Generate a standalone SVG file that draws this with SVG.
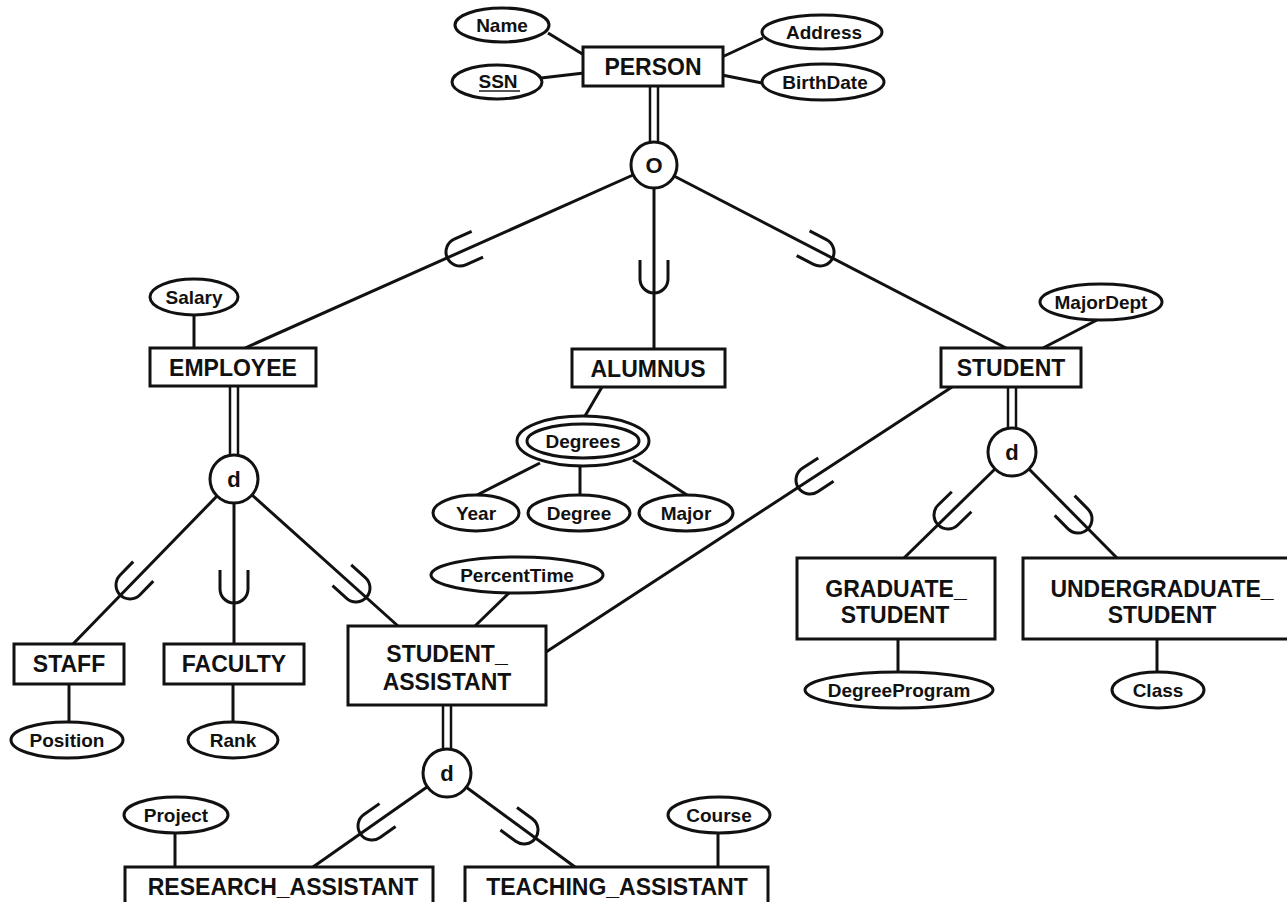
<svg xmlns="http://www.w3.org/2000/svg" xmlns:xlink="http://www.w3.org/1999/xlink" width="1287" height="902" viewBox="0 0 1287 902">
<style>
.ent{fill:#fff;stroke:#111;stroke-width:3}
.att{fill:#fff;stroke:#111;stroke-width:3}
.ln{stroke:#111;stroke-width:3;fill:none}
.dl{stroke:#111;stroke-width:2.5;fill:none}
.u{stroke:#111;stroke-width:3;fill:none}
.et{font-family:"Liberation Sans",Arial,sans-serif;font-weight:bold;font-size:23px;fill:#111;text-anchor:middle}
.at{font-family:"Liberation Sans",Arial,sans-serif;font-weight:bold;font-size:19px;fill:#111;text-anchor:middle}
.ct{font-family:"Liberation Sans",Arial,sans-serif;font-weight:bold;font-size:22px;fill:#111;text-anchor:middle}
</style>
<defs>
<path id="u" d="M -14,-19 L -14,0 A 14,14 0 0 0 14,0 L 14,-19"/>
</defs>
<rect width="1287" height="902" fill="#fff"/>
<g id="connectors">
<line class="ln" x1="548" y1="33" x2="584" y2="55"/>
<line class="ln" x1="541" y1="78" x2="584" y2="73"/>
<line class="ln" x1="763" y1="38" x2="722" y2="57"/>
<line class="ln" x1="762" y1="83" x2="722" y2="75"/>
<line class="dl" x1="650" y1="86" x2="650" y2="144"/>
<line class="dl" x1="658" y1="86" x2="658" y2="144"/>
<line class="ln" x1="633" y1="175" x2="245" y2="348"/>
<line class="ln" x1="654" y1="188" x2="654" y2="349"/>
<line class="ln" x1="674" y1="176" x2="1006" y2="348"/>
<use href="#u" class="u" transform="translate(460,252) rotate(65.96)"/>
<use href="#u" class="u" transform="translate(654,279)"/>
<use href="#u" class="u" transform="translate(820,252) rotate(-62.6)"/>
<line class="ln" x1="194" y1="315" x2="194" y2="348"/>
<line class="ln" x1="1097" y1="320" x2="1043" y2="348"/>
<line class="ln" x1="602" y1="387" x2="585" y2="416"/>
<line class="ln" x1="540" y1="463" x2="477" y2="495"/>
<line class="ln" x1="580" y1="466" x2="580" y2="495"/>
<line class="ln" x1="633" y1="460" x2="687" y2="495"/>
<line class="dl" x1="230" y1="386" x2="230" y2="456"/>
<line class="dl" x1="238" y1="386" x2="238" y2="456"/>
<line class="ln" x1="217" y1="496" x2="73" y2="644"/>
<line class="ln" x1="234" y1="503" x2="234" y2="644"/>
<line class="ln" x1="252" y1="495" x2="398" y2="626"/>
<use href="#u" class="u" transform="translate(130,585) rotate(44.2)"/>
<use href="#u" class="u" transform="translate(234,589)"/>
<use href="#u" class="u" transform="translate(356,588) rotate(-48.1)"/>
<line class="ln" x1="69" y1="684" x2="69" y2="722"/>
<line class="ln" x1="233" y1="684" x2="233" y2="722"/>
<line class="ln" x1="510" y1="592" x2="475" y2="626"/>
<line class="ln" x1="952" y1="387" x2="546" y2="652"/>
<use href="#u" class="u" transform="translate(810,480) rotate(56.87)"/>
<line class="dl" x1="1008" y1="387" x2="1008" y2="429"/>
<line class="dl" x1="1016" y1="387" x2="1016" y2="429"/>
<line class="ln" x1="995" y1="469" x2="904" y2="558"/>
<line class="ln" x1="1029" y1="469" x2="1117" y2="558"/>
<use href="#u" class="u" transform="translate(948,515) rotate(45.6)"/>
<use href="#u" class="u" transform="translate(1078,519) rotate(-44.7)"/>
<line class="ln" x1="898" y1="639" x2="898" y2="672"/>
<line class="ln" x1="1157" y1="639" x2="1157" y2="672"/>
<line class="dl" x1="443" y1="705" x2="443" y2="750"/>
<line class="dl" x1="451" y1="705" x2="451" y2="750"/>
<line class="ln" x1="427" y1="787" x2="313" y2="867"/>
<line class="ln" x1="466" y1="787" x2="575" y2="867"/>
<use href="#u" class="u" transform="translate(372,826) rotate(54.9)"/>
<use href="#u" class="u" transform="translate(524,830) rotate(-53.7)"/>
<line class="ln" x1="175" y1="833" x2="175" y2="867"/>
<line class="ln" x1="718" y1="833" x2="718" y2="867"/>
</g>
<g id="person"><rect class="ent" x="583" y="47" width="140" height="39"/><text class="et" x="653" y="75">PERSON</text></g>
<g id="name"><ellipse class="att" cx="502" cy="25" rx="47" ry="17"/><text class="at" x="502" y="32">Name</text></g>
<g id="ssn"><ellipse class="att" cx="497" cy="82" rx="45" ry="17"/><text class="at" x="498" y="88">SSN</text><line x1="479" y1="91" x2="520" y2="91" stroke="#555" stroke-width="2"/></g>
<g id="address"><ellipse class="att" cx="822" cy="32" rx="60" ry="17"/><text class="at" x="824" y="39">Address</text></g>
<g id="birthdate"><ellipse class="att" cx="823" cy="82" rx="61" ry="18"/><text class="at" x="825" y="89">BirthDate</text></g>
<g id="o-circle"><circle class="att" cx="654" cy="165" r="23"/><text class="ct" x="654" y="173">O</text></g>
<g id="employee"><rect class="ent" x="150" y="348" width="166" height="38"/><text class="et" x="233" y="376">EMPLOYEE</text></g>
<g id="salary"><ellipse class="att" cx="194" cy="297" rx="44" ry="18"/><text class="at" x="194" y="304">Salary</text></g>
<g id="alumnus"><rect class="ent" x="572" y="349" width="153" height="38"/><text class="et" x="648" y="377">ALUMNUS</text></g>
<g id="degrees"><ellipse class="att" cx="583" cy="441" rx="66" ry="25"/><ellipse class="att" cx="583" cy="441" rx="56" ry="17"/><text class="at" x="583" y="448">Degrees</text></g>
<g id="year"><ellipse class="att" cx="476" cy="513" rx="43" ry="18"/><text class="at" x="476" y="520">Year</text></g>
<g id="degree"><ellipse class="att" cx="579" cy="513" rx="51" ry="18"/><text class="at" x="579" y="520">Degree</text></g>
<g id="major"><ellipse class="att" cx="686" cy="513" rx="47" ry="18"/><text class="at" x="686" y="520">Major</text></g>
<g id="student"><rect class="ent" x="941" y="348" width="140" height="39"/><text class="et" x="1011" y="376">STUDENT</text></g>
<g id="majordept"><ellipse class="att" cx="1101" cy="302" rx="61" ry="18"/><text class="at" x="1101" y="309">MajorDept</text></g>
<g id="d-employee"><circle class="att" cx="234" cy="479" r="24"/><text class="ct" x="234" y="487">d</text></g>
<g id="d-student"><circle class="att" cx="1012" cy="452" r="24"/><text class="ct" x="1012" y="460">d</text></g>
<g id="staff"><rect class="ent" x="14" y="644" width="110" height="40"/><text class="et" x="69" y="672">STAFF</text></g>
<g id="faculty"><rect class="ent" x="164" y="644" width="140" height="40"/><text class="et" x="234" y="672">FACULTY</text></g>
<g id="position"><ellipse class="att" cx="67" cy="740" rx="56" ry="18"/><text class="at" x="67" y="747">Position</text></g>
<g id="rank"><ellipse class="att" cx="233" cy="740" rx="45" ry="18"/><text class="at" x="233" y="747">Rank</text></g>
<g id="student-assistant"><rect class="ent" x="348" y="626" width="198" height="79"/><text class="et" x="447" y="662">STUDENT_</text><text class="et" x="447" y="690">ASSISTANT</text></g>
<g id="percenttime"><ellipse class="att" cx="517" cy="575" rx="86" ry="18"/><text class="at" x="517" y="582">PercentTime</text></g>
<g id="graduate-student"><rect class="ent" x="797" y="558" width="198" height="81"/><text class="et" x="896" y="597">GRADUATE_</text><text class="et" x="895" y="623">STUDENT</text></g>
<g id="undergraduate-student"><rect class="ent" x="1023" y="558" width="270" height="81"/><text class="et" x="1162" y="597">UNDERGRADUATE_</text><text class="et" x="1162" y="623">STUDENT</text></g>
<g id="degreeprogram"><ellipse class="att" cx="899" cy="690" rx="94" ry="18"/><text class="at" x="899" y="697">DegreeProgram</text></g>
<g id="class"><ellipse class="att" cx="1158" cy="690" rx="46" ry="18"/><text class="at" x="1158" y="697">Class</text></g>
<g id="d-sa"><circle class="att" cx="447" cy="773" r="24"/><text class="ct" x="447" y="781">d</text></g>
<g id="project"><ellipse class="att" cx="176" cy="815" rx="52" ry="18"/><text class="at" x="176" y="822">Project</text></g>
<g id="course"><ellipse class="att" cx="719" cy="815" rx="51" ry="18"/><text class="at" x="719" y="822">Course</text></g>
<g id="research-assistant"><rect class="ent" x="125" y="867" width="308" height="50"/><text class="et" x="283" y="895">RESEARCH_ASSISTANT</text></g>
<g id="teaching-assistant"><rect class="ent" x="465" y="867" width="303" height="50"/><text class="et" x="617" y="895">TEACHING_ASSISTANT</text></g>
</svg>
